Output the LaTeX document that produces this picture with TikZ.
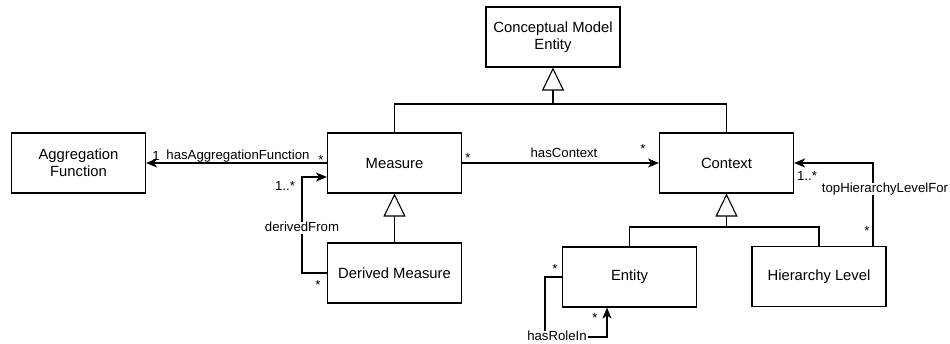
\documentclass[tikz,border=0pt]{standalone}
\usepackage{fontspec}
\setmainfont{Liberation Sans}
\usetikzlibrary{arrows.meta}

\begin{document}
\begin{tikzpicture}[x=1pt,y=-1pt,
  cls/.style={draw, line width=1.1pt, minimum width=134pt, minimum height=60pt,
    inner sep=2pt, align=center, font=\fontsize{14.8}{17}\selectfont},
  assoc/.style={line width=1.1pt, -{Stealth[length=11pt,width=9pt,inset=3pt]}},
  gen/.style={line width=1.1pt, -{Triangle[open,length=23pt,width=22pt,fill=white]}},
  plain/.style={line width=1.1pt},
  lbl/.style={font=\fontsize{13.2}{15}\selectfont, inner sep=1pt,
    text height=1.5ex, text depth=.25ex},
  bg/.style={fill=white}]
\useasboundingbox (0,0) rectangle (950,343);

% classes
\node[cls] (cme) at (553,37)    {Conceptual Model\\Entity};
\node[cls] (af)  at (78.5,163)  {Aggregation\\Function};
\node[cls] (m)   at (394.5,163) {Measure};
\node[cls] (c)   at (726.5,163) {Context};
\node[cls] (dm)  at (394.5,273) {Derived Measure};
\node[cls] (e)   at (629.5,277) {Entity};
\node[cls] (hl)  at (819,276.5) {Hierarchy Level};

% ports on the class borders used by the self-style loops
\coordinate (mIn) at ([yshift=-14pt]m.west);
\coordinate (hlOut) at ([xshift=54pt]hl.north);
\coordinate (eIn) at ([xshift=-22.5pt]e.south);

% generalisations
\coordinate (tj) at (553,104);
\coordinate (cj) at (726.5,227);
\draw[plain] (c.north) |- (tj);
\draw[gen] (m.north) |- (tj) -- (cme.south);
\draw[gen] (dm.north) -- (m.south);
\draw[plain] (hl.north) |- (cj);
\draw[gen] (e.north) |- (cj) -- (c.south);

% associations
\draw[assoc] (m.west) -- (af.east);
\node[lbl] (l1) at (156,157) {1};
\node[lbl] (l2) at (238,156) {hasAggregationFunction};
\node[lbl] (l3) at (321,161) {*};

\draw[assoc] (m.east) -- (c.west);
\node[lbl] (l4) at (468,159) {*};
\node[lbl] (l5) at (564,154) {hasContext};
\node[lbl] (l6) at (643,150) {*};

\draw[assoc] (dm.west) -- ++(-25,0) coordinate (d1)
  -- (d1 |- mIn) -- (mIn);
\node[lbl,bg] (l7) at (302,228) {derivedFrom};
\node[lbl] (l8) at (285,187) {1..*};
\node[lbl] (l9) at (318,286) {*};

\draw[assoc] (hlOut) -- (hlOut |- c.east) -- (c.east);
\node[lbl,bg] (l10) at (885,189) {topHierarchyLevelFor};
\node[lbl] (l11) at (807,177) {1..*};
\node[lbl] (l12) at (867,232) {*};

\draw[assoc] (e.west) -- ++(-17,0) -- ++(0,60) coordinate (h2)
  -- (h2 -| eIn) -- (eIn);
\node[lbl,bg] (l13) at (557,337) {hasRoleIn};
\node[lbl] (l14) at (555,270) {*};
\node[lbl] (l15) at (595,319) {*};
\end{tikzpicture}
\end{document}
